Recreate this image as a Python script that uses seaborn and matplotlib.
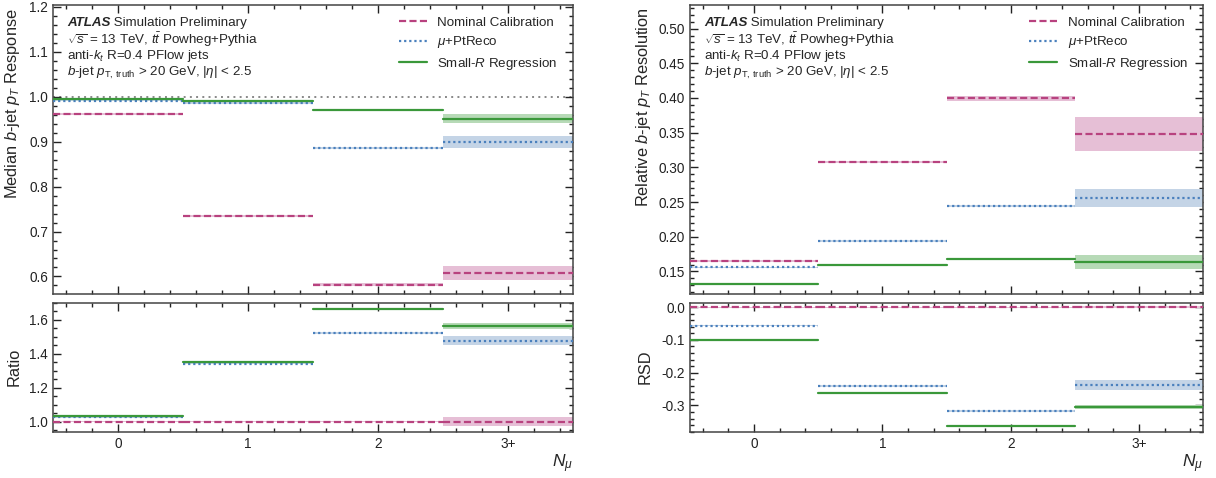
import numpy as np
import pandas as pd
import matplotlib
matplotlib.use("Agg")
import matplotlib.pyplot as plt
import seaborn as sns
from matplotlib.ticker import MultipleLocator, FixedLocator, FormatStrFormatter, NullFormatter
from matplotlib.lines import Line2D

# ---------------- data ----------------
bins = ["0", "1", "2", "3+"]
methods = ["Nominal Calibration", r"$\mu$+PtReco", r"Small-$R$ Regression"]

# median b-jet pT response
resp_nominal = [0.962, 0.735, 0.582, 0.608]
resp_nominal_err = [0.002, 0.002, 0.003, 0.015]
resp_ptreco = [0.991, 0.986, 0.886, 0.899]
resp_ptreco_err = [0.0015, 0.0015, 0.002, 0.014]
resp_regression = [0.994, 0.991, 0.970, 0.951]
resp_regression_err = [0.0015, 0.0015, 0.002, 0.0095]

# response ratio to nominal
ratio_nominal = [1.0, 1.0, 1.0, 1.0]
ratio_nominal_err = [0.004, 0.004, 0.005, 0.026]
ratio_ptreco = [1.026, 1.340, 1.519, 1.476]
ratio_ptreco_err = [0.003, 0.004, 0.005, 0.027]
ratio_regression = [1.031, 1.350, 1.663, 1.562]
ratio_regression_err = [0.003, 0.004, 0.005, 0.017]

# relative b-jet pT resolution
reso_nominal = [0.1653, 0.3079, 0.3995, 0.348]
reso_nominal_err = [0.001, 0.0015, 0.004, 0.025]
reso_ptreco = [0.1557, 0.1940, 0.2443, 0.2553]
reso_ptreco_err = [0.0008, 0.001, 0.0015, 0.013]
reso_regression = [0.1313, 0.1586, 0.1677, 0.1634]
reso_regression_err = [0.0008, 0.001, 0.001, 0.0096]

# relative resolution difference to nominal
rsd_nominal = [0.0, 0.0, 0.0, 0.0]
rsd_nominal_err = [0.002, 0.002, 0.002, 0.003]
rsd_ptreco = [-0.056, -0.240, -0.316, -0.237]
rsd_ptreco_err = [0.002, 0.003, 0.003, 0.015]
rsd_regression = [-0.101, -0.263, -0.362, -0.306]
rsd_regression_err = [0.002, 0.003, 0.003, 0.006]

# ---------------- style ----------------
sns.set_theme(style="ticks")
plt.rcParams.update({
    "font.family": ["Liberation Sans", "DejaVu Sans"],
    "mathtext.fontset": "custom",
    "mathtext.rm": "Liberation Sans",
    "mathtext.it": "Liberation Sans:italic",
    "mathtext.bf": "Liberation Sans:bold",
    "mathtext.sf": "Liberation Sans",
    "axes.edgecolor": "#444444",
    "axes.linewidth": 1.1,
    "xtick.color": "#222222",
    "ytick.color": "#222222",
    "axes.unicode_minus": True,
})

line_colors = {methods[0]: "#b8427f", methods[1]: "#4a80bd", methods[2]: "#3a983a"}
band_colors = {methods[0]: "#e6bfd6", methods[1]: "#c4d4e6", methods[2]: "#b7dab7"}
dash_styles = {methods[0]: (3.2, 1.5), methods[1]: (1.0, 1.3), methods[2]: ""}
LW = 1.6


def draw_steps(ax, series):
    rows = []
    for m, (vals, errs) in zip(methods, series):
        for i, (v, e) in enumerate(zip(vals, errs)):
            ax.fill_between([i - 0.5, i + 0.5], v - e, v + e,
                            color=band_colors[m], lw=0, zorder=1)
            for edge in (i - 0.5, i + 0.5):
                rows.append({"method": m, "bin": i, "x": edge, "y": v})
    df = pd.DataFrame(rows)
    sns.lineplot(data=df, x="x", y="y", hue="method", style="method",
                 units="bin", estimator=None, palette=line_colors,
                 dashes=dash_styles, hue_order=methods, style_order=methods,
                 lw=LW, legend=False, ax=ax, zorder=3, sort=False)
    ax.set_xlabel("")
    ax.set_ylabel("")


def style_axes(ax, ymaj, ymin, fmt, show_xlabels):
    ax.set_xlim(-0.5, 3.5)
    ax.xaxis.set_major_locator(FixedLocator(range(len(bins))))
    ax.xaxis.set_minor_locator(MultipleLocator(0.2))
    if show_xlabels:
        ax.set_xticklabels(bins)
    else:
        ax.xaxis.set_major_formatter(NullFormatter())
    ax.yaxis.set_major_locator(MultipleLocator(ymaj))
    ax.yaxis.set_minor_locator(MultipleLocator(ymin))
    ax.yaxis.set_major_formatter(FormatStrFormatter(fmt))
    ax.tick_params(which="both", direction="in", top=True, right=True,
                   labelsize=9.8, width=1.0)
    ax.tick_params(which="major", length=6)
    ax.tick_params(which="minor", length=3)


fig = plt.figure(figsize=(12.16, 4.78), dpi=100)
W, H = 1216.0, 478.0


def axes_px(x0, x1, y0, y1):
    return fig.add_axes([x0 / W, 1 - y1 / H, (x1 - x0) / W, (y1 - y0) / H])


ax_resp = axes_px(53, 573, 5, 294)
ax_ratio = axes_px(53, 573, 302.5, 432)
ax_reso = axes_px(690, 1203, 5, 294)
ax_rsd = axes_px(690, 1203, 302.5, 432)

YLAB = 11.8

# response panel
ax_resp.axhline(1.0, color="#888888", ls=(0, (1, 2.2)), lw=1.4, zorder=0)
draw_steps(ax_resp, [(resp_nominal, resp_nominal_err),
                     (resp_ptreco, resp_ptreco_err),
                     (resp_regression, resp_regression_err)])
ax_resp.set_ylim(0.561, 1.204)
style_axes(ax_resp, 0.1, 0.02, "%.1f", False)
ax_resp.set_ylabel(r"Median $b$-jet $p_T$ Response", fontsize=YLAB, loc="top")
ax_resp.yaxis.set_label_coords(-0.06, 0.99)

draw_steps(ax_ratio, [(ratio_nominal, ratio_nominal_err),
                      (ratio_ptreco, ratio_ptreco_err),
                      (ratio_regression, ratio_regression_err)])
ax_ratio.set_ylim(0.939, 1.70)
style_axes(ax_ratio, 0.2, 0.05, "%.1f", True)
ax_ratio.set_ylabel("Ratio", fontsize=YLAB)
ax_ratio.yaxis.set_label_coords(-0.06, 0.5)
ax_ratio.set_xlabel(r"$N_{\mu}$", fontsize=12.5, loc="right", labelpad=1)

# resolution panel
draw_steps(ax_reso, [(reso_nominal, reso_nominal_err),
                     (reso_ptreco, reso_ptreco_err),
                     (reso_regression, reso_regression_err)])
ax_reso.set_ylim(0.1175, 0.534)
style_axes(ax_reso, 0.05, 0.01, "%.2f", False)
ax_reso.set_ylabel(r"Relative $b$-jet $p_T$ Resolution", fontsize=YLAB, loc="top")
ax_reso.yaxis.set_label_coords(-0.072, 0.99)

draw_steps(ax_rsd, [(rsd_nominal, rsd_nominal_err),
                    (rsd_ptreco, rsd_ptreco_err),
                    (rsd_regression, rsd_regression_err)])
ax_rsd.set_ylim(-0.381, 0.0143)
style_axes(ax_rsd, 0.1, 0.02, "%.1f", True)
ax_rsd.set_ylabel("RSD", fontsize=YLAB)
ax_rsd.yaxis.set_label_coords(-0.072, 0.5)
ax_rsd.set_xlabel(r"$N_{\mu}$", fontsize=12.5, loc="right", labelpad=1)

# legends and labels on the upper panels
handles = []
for m in methods:
    h = Line2D([], [], color=line_colors[m], lw=LW)
    if dash_styles[m]:
        h.set_dashes(dash_styles[m])
    handles.append(h)

info_lines = [
    r"$\sqrt{s}$ = 13 TeV, $t\bar{t}$ Powheg+Pythia",
    r"anti-$k_t$ R=0.4 PFlow jets",
    r"$b$-jet $p_{\mathrm{T,\,truth}}$ > 20 GeV, $|\eta|$ < 2.5",
]
TXT = 9.6
for ax in (ax_resp, ax_reso):
    ax.legend(handles, methods, loc="upper right", frameon=False,
              fontsize=TXT, handlelength=2.1, handletextpad=0.8,
              labelspacing=0.42, borderaxespad=0.3,
              bbox_to_anchor=(0.988, 0.993))
    atl = ax.text(0.027, 0.939, "ATLAS", transform=ax.transAxes, fontsize=TXT,
                  fontweight="bold", fontstyle="italic", va="center", ha="left")
    ax.annotate(" Simulation Preliminary", xy=(1, 0), xycoords=atl,
                va="bottom", ha="left", fontsize=TXT)
    for k, s in enumerate(info_lines):
        ax.text(0.027, 0.881 - 0.058 * k, s, transform=ax.transAxes,
                fontsize=TXT, va="center", ha="left")

fig.savefig("out.png", dpi=100)
